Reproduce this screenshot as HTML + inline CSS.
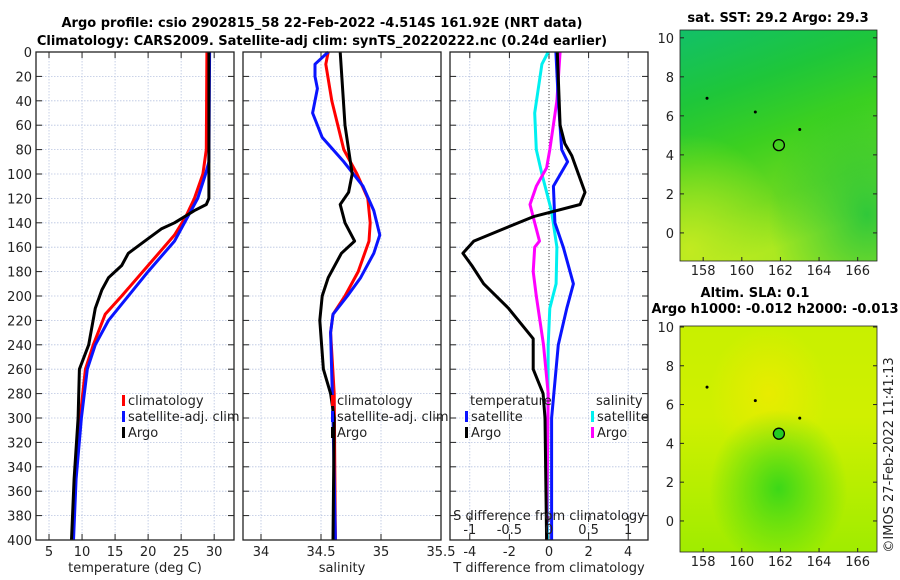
<!DOCTYPE html>
<html><head><meta charset="utf-8"><style>
html,body{margin:0;padding:0;background:#fff}
svg{display:block;font-family:"DejaVu Sans","Liberation Sans",sans-serif}
</style></head><body>
<svg id="fig" width="900" height="580" viewBox="0 0 900 580" xmlns="http://www.w3.org/2000/svg">
<defs>
<linearGradient id="g1" x1="0" y1="0" x2="0.3" y2="1">
<stop offset="0" stop-color="#12c068"/><stop offset="0.3" stop-color="#1ec63a"/><stop offset="0.55" stop-color="#3cd020"/><stop offset="0.8" stop-color="#6cd820"/><stop offset="1" stop-color="#a8e820"/></linearGradient>
<radialGradient id="g1b" cx="0.05" cy="0.95" r="0.5"><stop offset="0" stop-color="#c8ec20" stop-opacity="0.9"/><stop offset="1" stop-color="#c8ec20" stop-opacity="0"/></radialGradient>
<radialGradient id="g1c" cx="0.95" cy="0.8" r="0.5"><stop offset="0" stop-color="#12c040" stop-opacity="0.8"/><stop offset="1" stop-color="#12c040" stop-opacity="0"/></radialGradient>
<linearGradient id="g2" x1="0" y1="0" x2="0" y2="1"><stop offset="0" stop-color="#c8f000"/><stop offset="0.4" stop-color="#d0f000"/><stop offset="1" stop-color="#a0ec00"/></linearGradient>
<radialGradient id="g2b" cx="0.5" cy="0.72" r="0.35"><stop offset="0" stop-color="#3cd818"/><stop offset="1" stop-color="#3cd818" stop-opacity="0"/></radialGradient>
<radialGradient id="g2c" cx="0.45" cy="0.3" r="0.3"><stop offset="0" stop-color="#e8ec00"/><stop offset="1" stop-color="#e8ec00" stop-opacity="0"/></radialGradient>
</defs>
<text x="322" y="27" text-anchor="middle" font-size="13" font-weight="bold">Argo profile: csio 2902815_58 22-Feb-2022 -4.514S 161.92E (NRT data)</text>
<text x="322" y="45" text-anchor="middle" font-size="13" font-weight="bold">Climatology: CARS2009. Satellite-adj clim: synTS_20220222.nc (0.24d earlier)</text>
<g id="plots"></g>
<text x="778" y="22" text-anchor="middle" font-size="13" font-weight="bold">sat. SST: 29.2 Argo: 29.3</text>
<text x="755" y="297" text-anchor="middle" font-size="13" font-weight="bold">Altim. SLA: 0.1</text>
<text x="775" y="313" text-anchor="middle" font-size="13" font-weight="bold">Argo h1000: -0.012 h2000: -0.013</text>
<text transform="translate(893,455) rotate(-90)" text-anchor="middle" font-size="13" fill="#222">©IMOS 27-Feb-2022 11:41:13</text>
</svg>
<script>
// ---------- data ----------
const tDepth = [0,120,125,130,140,145,155,165,175,185,195,210,240,260,300,350,400];
const tArgo  = [29.2,29.2,28.8,27,24,22,19.5,17,16,14,13,12,11,9.6,9.4,8.8,8.4];
const cDepth = [0,80,100,120,135,150,175,200,215,240,260,300,350,400];
const tClim  = [28.9,28.8,28.3,27,25.7,24,20,16,13.5,11.7,10.5,9.7,9,8.6];
const sDepthT= [0,90,100,120,135,155,180,210,220,240,260,300,350,400];
const tSat   = [29.3,29.2,28.7,27.5,26,24,20,15.5,14,12,10.8,9.9,9.1,8.7];
const sArgoD = [0,60,100,115,125,140,155,165,185,200,220,260,280,300,400];
const sArgo  = [34.66,34.70,34.76,34.73,34.66,34.70,34.78,34.67,34.56,34.51,34.49,34.52,34.58,34.61,34.60];
const sClimD = [0,10,40,80,100,120,140,155,180,200,215,230,280,400];
const sClim  = [34.56,34.54,34.59,34.69,34.80,34.89,34.91,34.90,34.81,34.70,34.60,34.58,34.61,34.62];
const sSatD  = [0,10,20,30,50,70,90,110,130,150,165,185,200,215,230,300,400];
const sSat   = [34.56,34.45,34.45,34.47,34.43,34.51,34.69,34.85,34.94,34.99,34.94,34.83,34.72,34.60,34.58,34.60,34.62];
const dTsD   = [0,40,80,90,110,140,160,190,210,240,300,400];
const dTsat  = [0.35,0.47,0.64,0.94,0.22,0.3,0.72,1.23,0.9,0.47,0.13,0.13];
const dTaD   = [0,60,75,85,115,125,135,145,155,165,175,190,210,235,260,280,300,400];
const dTargo = [0.42,0.56,0.8,1.15,1.82,1.57,-0.8,-2.3,-3.8,-4.35,-3.9,-3.3,-2.05,-0.8,-0.8,-0.3,-0.2,-0.12];
const dSsD   = [0,10,50,80,100,130,160,190,210,240,400];
const dSsat  = [-0.01,-0.09,-0.18,-0.16,-0.09,0.03,0.1,0.09,0.01,-0.01,-0.02];
const dSaD   = [0,40,80,95,110,125,140,155,160,180,200,240,280,400];
const dSargo = [0.14,0.1,0.01,-0.03,-0.16,-0.24,-0.18,-0.12,-0.18,-0.2,-0.16,-0.07,-0.01,-0.03];
const depthTicks = [0,20,40,60,80,100,120,140,160,180,200,220,240,260,280,300,320,340,360,380,400];
const tTicks = [5,10,15,20,25,30];
const sTicks = [34,34.5,35,35.5];
const dTTicks = [-4,-2,0,2,4];
const dSTicks = [-1,-0.5,0,0.5,1];
const lonTicks = [158,160,162,164,166];
const latTicks = [0,2,4,6,8,10];

const NS="http://www.w3.org/2000/svg";
const root=document.getElementById('plots');
function el(tag,attrs,parent,txt){const e=document.createElementNS(NS,tag);for(const k in attrs)e.setAttribute(k,attrs[k]);if(txt!==undefined)e.textContent=txt;(parent||root).appendChild(e);return e;}
const Y0=52,Y1=540;
function yD(d){return Y0+(d/400)*(Y1-Y0);}
function mk(x0,x1,xmin,xmax){return v=>x0+(v-xmin)/(xmax-xmin)*(x1-x0);}

function panel(name,x0,x1,xs,ticks,fmt,title,showY){
  const g=el('g',{});
  
  
  el('rect',{x:x0,y:Y0,width:x1-x0,height:Y1-Y0,fill:'#fff'},g);
  depthTicks.forEach(d=>{
    el('line',{x1:x0,x2:x1,y1:yD(d),y2:yD(d),stroke:'#b8c4e0','stroke-width':0.8,'stroke-dasharray':'1.5,1.5'},g);
    el('line',{x1:x0,x2:x0+6,y1:yD(d),y2:yD(d),stroke:'#222'},g);
    el('line',{x1:x1-6,x2:x1,y1:yD(d),y2:yD(d),stroke:'#222'},g);
    if(showY){const t=el('text',{x:x0-4,y:yD(d)+5,'text-anchor':'end','font-size':13,fill:'#222'},g,String(d));
      }
  });
  ticks.forEach(v=>{const x=xs(v);
    el('line',{x1:x,x2:x,y1:Y0,y2:Y1,stroke:'#b8c4e0','stroke-width':0.8,'stroke-dasharray':'1.5,1.5'},g);
    el('line',{x1:x,x2:x,y1:Y1,y2:Y1-6,stroke:'#222'},g);
    el('line',{x1:x,x2:x,y1:Y0,y2:Y0+6,stroke:'#222'},g);
    const t=el('text',{x:x,y:556,'text-anchor':'middle','font-size':13,fill:'#222'},g,fmt(v));
    
  });
  const tt=el('text',{x:(x0+x1)/2,y:572,'text-anchor':'middle','font-size':13,fill:'#222'},g,title);
  
  return g;
}
function line(g,name,ds,vs,xs,color){
  const p=ds.map((d,i)=>(i?'L':'M')+xs(vs[i]).toFixed(1)+','+yD(d).toFixed(1)).join('');
  const e=el('path',{d:p,fill:'none',stroke:color,'stroke-width':3,'stroke-linejoin':'round'},g);
  
  
}
function frame(g,x0,x1){el('rect',{x:x0,y:Y0,width:x1-x0,height:Y1-Y0,fill:'none',stroke:'#222','stroke-width':1.3},g);}
function legend(g,x,y,color,label){
  el('rect',{x:x,y:y-10,width:3,height:11,fill:color},g);
  const t=el('text',{x:x+6,y:y,'font-size':13,fill:'#222'},g,label);
  
  
}
const f=v=>String(v);
// Panel 1 temperature
const xT=mk(36,234,3.03,33);
let g=panel('temperature-panel',36,234,xT,tTicks,f,'temperature (deg C)',true);
line(g,'temp-climatology-line',cDepth,tClim,xT,'#ff0000');
line(g,'temp-satellite-line',sDepthT,tSat,xT,'#0a14ff');
line(g,'temp-argo-line',tDepth,tArgo,xT,'#000');
frame(g,36,234);
legend(g,122,405,'#ff0000','climatology');legend(g,122,421,'#0a14ff','satellite-adj. clim');legend(g,122,437,'#000','Argo');
// Panel 2 salinity
const xS=mk(243,441,33.85,35.5);
g=panel('salinity-panel',243,441,xS,sTicks,f,'salinity',false);
line(g,'sal-climatology-line',sClimD,sClim,xS,'#ff0000');
line(g,'sal-satellite-line',sSatD,sSat,xS,'#0a14ff');
line(g,'sal-argo-line',sArgoD,sArgo,xS,'#000');
frame(g,243,441);
legend(g,331,405,'#ff0000','climatology');legend(g,331,421,'#0a14ff','satellite-adj. clim');legend(g,331,437,'#000','Argo');
// Panel 3 differences
const xDT=mk(450,648,-5,5);
const xDS=v=>xDT(v*4);
g=panel('difference-panel',450,648,xDT,dTTicks,f,'T difference from climatology',false);
el('line',{x1:xDT(0),x2:xDT(0),y1:Y0,y2:Y1,stroke:'#444','stroke-width':1,'stroke-dasharray':'1,2'},g);
line(g,'dS-satellite-line',dSsD,dSsat,xDS,'#00f0f0');
line(g,'dS-argo-line',dSaD,dSargo,xDS,'#ff00ff');
line(g,'dT-satellite-line',dTsD,dTsat,xDT,'#0a14ff');
line(g,'dT-argo-line',dTaD,dTargo,xDT,'#000');
frame(g,450,648);
let t=el('text',{x:470,y:405,'font-size':13,fill:'#222'},g,'temperature');
t=el('text',{x:596,y:405,'font-size':13,fill:'#222'},g,'salinity');
legend(g,465,421,'#0a14ff','satellite');legend(g,465,437,'#000','Argo');
legend(g,591,421,'#00f0f0','satellite');legend(g,591,437,'#ff00ff','Argo');
t=el('text',{x:549,y:520,'text-anchor':'middle','font-size':13,fill:'#222'},g,'S difference from climatology');
dSTicks.forEach(v=>{const x=xDS(v);el('line',{x1:x,x2:x,y1:Y1-6-18,y2:Y1-18,stroke:'#222'},g);
  const tt=el('text',{x:x,y:534,'text-anchor':'middle','font-size':13,fill:'#222'},g,String(v));});

// Maps
function map(name,top,bottom,latTop,latBot,fillIds,circleFill){
  const x0=680,x1=877;
  const xl=mk(x0,x1,156.8,167.0);
  const yl=v=>top+(latTop-v)/(latTop-latBot)*(bottom-top);
  const g=el('g',{});
  
  
  fillIds.forEach(id=>el('rect',{x:x0,y:top,width:x1-x0,height:bottom-top,fill:'url(#'+id+')'},g));
  el('rect',{x:x0,y:top,width:x1-x0,height:bottom-top,fill:'none',stroke:'#222','stroke-width':0.8},g);
  lonTicks.forEach(v=>{const x=xl(v);el('line',{x1:x,x2:x,y1:bottom,y2:bottom-4,stroke:'#222'},g);
    const tt=el('text',{x:x,y:bottom+14,'text-anchor':'middle','font-size':13,fill:'#222'},g,String(v));});
  latTicks.forEach(v=>{const y=yl(v);el('line',{x1:x0,x2:x0+4,y1:y,y2:y,stroke:'#222'},g);el('line',{x1:x1-4,x2:x1,y1:y,y2:y,stroke:'#222'},g);
    const tt=el('text',{x:x0-6,y:y+5,'text-anchor':'end','font-size':13,fill:'#222'},g,String(v));});
  [[158.2,6.9],[160.7,6.2],[163,5.3]].forEach(p=>el('circle',{cx:xl(p[0]),cy:yl(p[1]),r:1.5,fill:'#000'},g));
  const c=el('circle',{cx:xl(161.92),cy:yl(4.5),r:5.5,fill:circleFill,stroke:'#000','stroke-width':1.3},g);
  
  
}
map('sst-map',30,261,10.4,-1.44,['g1','g1b','g1c'],'none');
map('sla-map',326,552,10.05,-1.6,['g2','g2c','g2b'],'#22cc22');
</script>
</body></html>
